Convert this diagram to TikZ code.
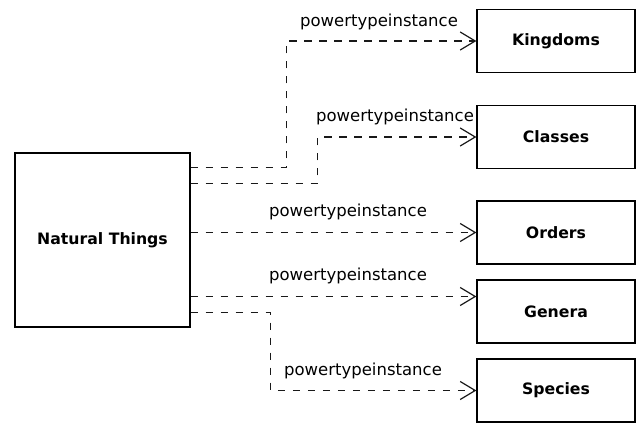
\documentclass[tikz,border=0pt]{standalone}
\usepackage{fontspec}
\setmainfont{DejaVu Sans}
\usetikzlibrary{arrows.meta}

\tikzset{
	classbox/.style={draw, line width=1.3pt, minimum width=158pt, minimum height=63pt, inner sep=0pt, font=\fontsize{15.7}{18}\selectfont\bfseries},
	pti/.style={line width=1.3pt, color=black!90, dash pattern=on 7.5pt off 7.5pt, -{Straight Barb[length=15pt, width=18pt, line width=1.2pt]}},
	ptilabel/.style={inner sep=0pt, font=\fontsize{16.5}{19}\selectfont}
}

\begin{document}
\begin{tikzpicture}[x=1pt, y=-1pt]
		%%%%% START %%%%%
		
		\useasboundingbox (0, 0) rectangle (637, 423);
		
		\node[classbox, minimum width=175pt, minimum height=174pt] (nat) at (102.5, 240) {Natural Things};
		
		\node[classbox] (kingdoms) at (556, 41) {Kingdoms};
		\node[classbox] (classes) at (556, 137) {Classes};
		\node[classbox] (orders) at (556, 232.5) {Orders};
		\node[classbox] (genera) at (556, 311.5) {Genera};
		\node[classbox] (species) at (556, 390.5) {Species};
		
		\coordinate (gen in) at ([yshift=15pt]genera.west);
		
		\draw[pti] ([yshift=-15pt]nat.north east) -- ++(96, 0) |- (kingdoms.west);
		\draw[pti] ([yshift=-31pt]nat.north east) -- ++(127, 0) |- (classes.west);
		\draw[pti] (nat.east |- orders.west) -- (orders.west);
		\draw[pti] (nat.east |- gen in) -- (gen in);
		\draw[pti] ([yshift=15pt]nat.south east) -- ++(80, 0) |- (species.west);
		
		\node[ptilabel] (kingdoms lbl) at (379, 22) {powertypeinstance};
		\node[ptilabel] (classes lbl) at (395, 117) {powertypeinstance};
		\node[ptilabel] (orders lbl) at (348, 212) {powertypeinstance};
		\node[ptilabel] (genera lbl) at (348, 276) {powertypeinstance};
		\node[ptilabel] (species lbl) at (363, 371) {powertypeinstance};
		
		%%%%% END %%%%%
	\end{tikzpicture}
\end{document}
